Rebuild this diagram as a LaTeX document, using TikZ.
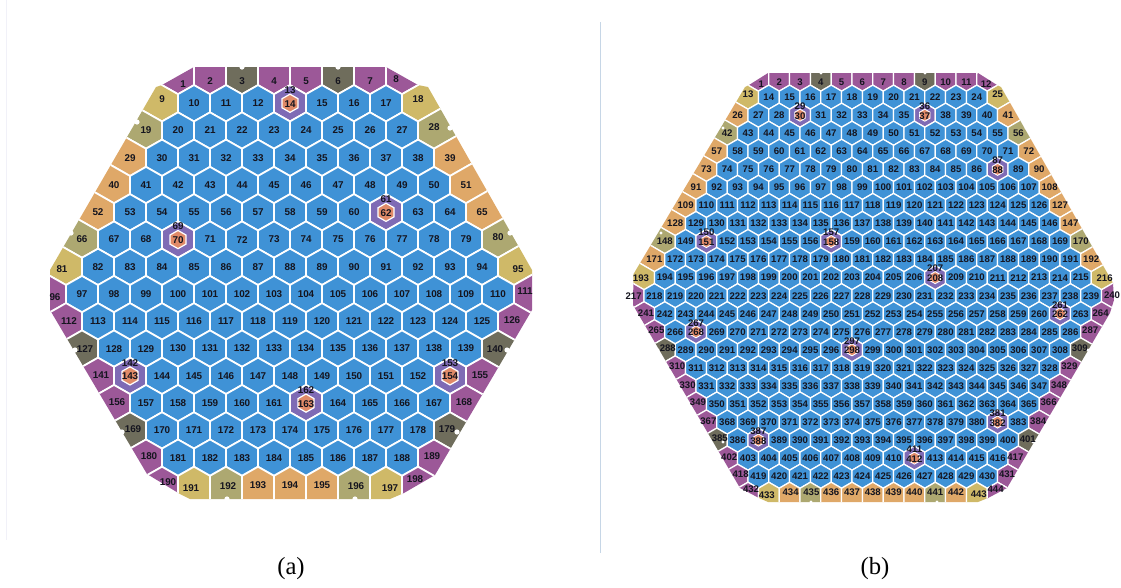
\documentclass[tikz,border=0pt]{standalone}
\usepackage{fontspec}
\setmainfont{Liberation Serif}
\newfontfamily\cellfont{Liberation Sans}

\definecolor{asm_blue}{HTML}{3F92D6}
\definecolor{asm_purple}{HTML}{9C5898}
\definecolor{asm_dark}{HTML}{6F6D5C}
\definecolor{asm_gold}{HTML}{CFB968}
\definecolor{asm_olive}{HTML}{ADA871}
\definecolor{asm_orange}{HTML}{DFA868}
\definecolor{asm_rod}{HTML}{7F6BB5}
\definecolor{asm_pin}{HTML}{E08A68}
\definecolor{asm_text}{HTML}{15151F}
\definecolor{rule_blue}{HTML}{C6D6E6}
\definecolor{rule_faint}{HTML}{F1F1F8}

\newcount\cellno
\newcommand{\setcells}[3]{\foreach \n in {#3}{\expandafter\xdef\csname #1\n\endcsname{#2}}}
\newcommand{\setshift}[2]{\foreach \n/\dx/\dy in {#2}{%
    \expandafter\xdef\csname dx#1\n\endcsname{\dx}%
    \expandafter\xdef\csname dy#1\n\endcsname{\dy}}}

% Walk over the rows of a core, body sees \cx, \cy and \cellno
\newcommand{\forcells}[1]{%
    \global\cellno=1
    \foreach \r/\m in \rowlist {%
        \foreach \k in {1,...,\m} {%
            \pgfmathsetmacro\cx{\midx+(\k-(\m+1)/2)*2*\hw}
            \pgfmathsetmacro\cy{\topy+\r*\pitchy}
            #1
            \ifcsname sh\tag\the\cellno\endcsname
                \global\advance\cellno by 2
            \else
                \global\advance\cellno by 1
            \fi
        }
    }%
}
\newcommand{\drawcells}{\forcells{%
    \ifcsname sh\tag\the\cellno\endcsname
        \def\ccol{asm_rod}
    \else\ifcsname cc\tag\the\cellno\endcsname
        \edef\ccol{\csname cc\tag\the\cellno\endcsname}
    \else
        \def\ccol{asm_blue}
    \fi\fi
    % Rim cells run out to the clip line
    \let\cellpath\hexpath
    \ifnum\r=0 \let\cellpath\toppath\fi
    \ifnum\r=\lastrow \let\cellpath\botpath\fi
    \def\sx{1}
    \ifnum\k=\m \def\sx{-1}\fi
    \ifnum\k=1 \def\isrim{1}\else\ifnum\k=\m \def\isrim{1}\else\def\isrim{0}\fi\fi
    \ifnum\isrim=1
        \ifnum\r<\midrow \let\cellpath\rimup
        \else\ifnum\r=\midrow \let\cellpath\rimmid
        \else\ifnum\r=\lastrow \let\cellpath\rimbot
        \else \let\cellpath\rimdown
        \fi\fi\fi
    \fi
    \draw[asm_cell, fill=\ccol, shift={(\cx,\cy)}, xscale=\sx] \cellpath;
    \ifcsname sh\tag\the\cellno\endcsname
        \draw[asm_cell, line width=0.7*\gapw, fill=asm_pin, shift={(\cx,\cy)}, scale=0.5] \hexpath;
    \fi
}}
\newcommand{\numbercells}{\forcells{%
    \def\ldx{0}\def\ldy{0}
    \ifcsname dx\tag\the\cellno\endcsname
        \edef\ldx{\csname dx\tag\the\cellno\endcsname}
        \edef\ldy{\csname dy\tag\the\cellno\endcsname}
    \fi
    \edef\nid{\tag\the\cellno}
    \ifcsname sh\tag\the\cellno\endcsname
        \node[asm_num] (\nid) at (\cx,\cy+\upshift) {\the\cellno};
        \pgfmathtruncatemacro\nxt{\cellno+1}
        \node[asm_num] (\tag\nxt) at (\cx,\cy+0.7) {\nxt};
    \else
        \node[asm_num] (\nid) at (\cx+\ldx,\cy+\ldy) {\the\cellno};
    \fi
}}

\setcells{cca}{asm_purple}{1,2,4,5,7,8,96,111,112,126,141,155,156,168,180,189,190,198}
\setcells{cca}{asm_dark}{3,6,127,140,169,179}
\setcells{cca}{asm_gold}{9,18,81,95,191,197}
\setcells{cca}{asm_olive}{19,28,66,80,192,196}
\setcells{cca}{asm_orange}{29,39,40,51,52,65,193,194,195}
\setcells{sha}{1}{13,61,69,142,153,162}
\setshift{a}{1/5/8,2/0/5,3/0/5,4/0/5,5/0/5,6/0/5,7/0/5,8/-6/3,9/0/-4,18/0/-4,28/0/-3,80/0/-2,
    81/-4/2,95/4/2,96/5/3,111/-5/-3,112/3/0,126/-2/-1,127/3/0,140/-3/0,141/3/-1,155/-2/-1,
    156/3/-1.5,168/-2/-1.5,169/3/-1,179/-3/-1,180/3/-2,189/-2/-2,190/6/-3,198/-3/-6,
    191/-3/3,192/2/1,196/2/1,197/4/3}

\setcells{ccb}{asm_purple}{1,2,3,5,6,7,8,10,11,12,217,240,241,264,265,287,310,329,330,348,349,366,367,384,402,417,418,431,432,444}
\setcells{ccb}{asm_dark}{4,9,288,309,385,401}
\setcells{ccb}{asm_gold}{13,25,193,216,433,443}
\setcells{ccb}{asm_olive}{42,56,148,170,435,441}
\setcells{ccb}{asm_orange}{26,41,57,72,73,90,91,108,109,127,128,147,171,192,434,436,437,438,439,440,442}
\setcells{shb}{1}{29,36,87,150,157,207,261,267,297,381,387,411}
\setshift{b}{1/3/5,2/0/3,3/0/3,4/0/3,5/0/3,6/0/3,7/0/3,8/0/3,9/0/3,10/0/3,11/0/3,12/-1/5,13/0/-3,25/0/-3,
    193/-3/1,216/3/1,240/0/-1,241/2/-1,264/-1/-1,265/2/-2,287/-1/-2,288/3/-2,309/-1/-2,310/2/-2,329/-1/-2,
    330/2/-1,348/-1/-1,349/2/-2,366/-1/-2,367/2/-1,384/-1/-1,385/3/-2,401/-1/-1,402/2/-1,417/-3/-1,
    418/3/-2,431/-1/-2,432/3/-5,444/-2/-5,433/-2/1,434/1/-2,435/1/-2,436/0/-2,437/0/-2,438/0/-2,439/0/-2,
    440/0/-2,441/0/-2,442/0/-2,443/2/0}

\begin{document}
\begin{tikzpicture}[
            x=0.75pt, y=-0.75pt,
            asm_cell/.style={draw=white, line width=\gapw},
            asm_num/.style={font=\cellfont\bfseries\numsize, text=asm_text, inner sep=0pt},
            notch/.style={fill=white},
            cap_label/.style={font=\fontsize{18.5}{20}\selectfont, inner sep=0pt}
        ]
        \useasboundingbox (0,0) rectangle (1121,587);
        \def\hexpath{(0,-\rad) -- (\hw,-\rad/2) -- (\hw,\rad/2) -- (0,\rad) -- (-\hw,\rad/2) -- (-\hw,-\rad/2) -- cycle}
        \def\toppath{(0,\rad) -- (\hw,\rad/2) -- (\hw,-2*\rad) -- (-\hw,-2*\rad) -- (-\hw,\rad/2) -- cycle}
        \def\botpath{(0,-\rad) -- (\hw,-\rad/2) -- (\hw,2*\rad) -- (-\hw,2*\rad) -- (-\hw,-\rad/2) -- cycle}
        \def\rimup{(0,\rad) -- (\hw,\rad/2) -- (\hw,-\rad/2) -- (-3*\hw,-2.5*\rad) -- (-3*\hw,-\rad/2) -- cycle}
        \def\rimmid{(\hw,-\rad/2) -- (\hw,\rad/2) -- (-3*\hw,2.5*\rad) -- (-3*\hw,-2.5*\rad) -- cycle}
        \def\rimdown{(0,-\rad) -- (\hw,-\rad/2) -- (\hw,\rad/2) -- (-3*\hw,2.5*\rad) -- (-3*\hw,\rad/2) -- cycle}
        \def\rimbot{(0,-\rad) -- (\hw,-\rad/2) -- (\hw,2*\rad) -- (-3*\hw,2*\rad) -- (-3*\hw,\rad/2) -- cycle}

        % Faint edge and divider between the panels
        \draw[rule_faint, line width=0.6pt] (6,0) -- (6,540);
        \draw[rule_blue, line width=0.6pt] (600.7,22) -- (600.7,553);

        % Core (a)
        \def\tag{a}
        \def\midx{290}
        \def\topy{76}
        \def\hw{16}
        \def\pitchy{27.26}
        \def\rad{18.17}
        \def\upshift{-13.2}
        \def\gapw{1.3pt}
        \def\numsize{\fontsize{7.4}{8}\selectfont}
        \def\midrow{8}
        \def\lastrow{15}
        \def\rowlist{0/8,1/9,2/10,3/11,4/12,5/13,6/14,7/15,8/16,9/15,10/14,11/13,12/12,13/11,14/10,15/9}
        \begin{scope}
            \clip (194,67) -- (386,67) -- (418,85) -- (428,87) -- (532,270) -- (532,310) -- (435,475)
                -- (404,493) -- (390,499) -- (190,499) -- (180,494) -- (147,474) -- (50,310) -- (50,270)
                -- (156,87) -- (162,85) -- cycle;
            \drawcells
        \end{scope}

        % Small bites out of the rim
        \foreach \nx/\ny in {242/67,338/67,227/499,355/499,137/122,450/128,71/233,510/233,75/350,507/350,122/432,457/432}
            \fill[notch] (\nx,\ny) circle (2.6);
        \numbercells
        \node[cap_label] (cap_a) at (291,569) {(a)};

        % Core (b)
        \def\tag{b}
        \def\midx{872.8}
        \def\topy{79.1}
        \def\hw{10.4}
        \def\pitchy{18.05}
        \def\rad{12.03}
        \def\upshift{-9}
        \def\gapw{0.95pt}
        \def\numsize{\fontsize{7.2}{8}\selectfont}
        \def\midrow{12}
        \def\lastrow{23}
        \def\rowlist{0/12,1/13,2/14,3/15,4/16,5/17,6/18,7/19,8/20,9/21,10/22,11/23,12/24,13/23,14/22,15/21,16/20,17/19,18/18,19/17,20/16,21/15,22/14,23/13}
        \begin{scope}
            \clip (768,73) -- (978,73) -- (997,85) -- (1001,87) -- (1113,283) -- (1114,300) -- (1110,313)
                -- (1007,488) -- (988,498) -- (978,502) -- (768,502) -- (759,498) -- (740,488) -- (633,305)
                -- (633.5,274) -- (745,87) -- (749,85) -- cycle;
            \drawcells
        \end{scope}

        \foreach \nx/\ny in {821/73,925/73,811/502,937/502,723/128,1026/128,661/233,1088/233,658/350,1088/350,723/442,1033/442}
            \fill[notch] (\nx,\ny) circle (1.7);
        \numbercells
        \node[cap_label] (cap_b) at (875,569) {(b)};

    \end{tikzpicture}
\end{document}
